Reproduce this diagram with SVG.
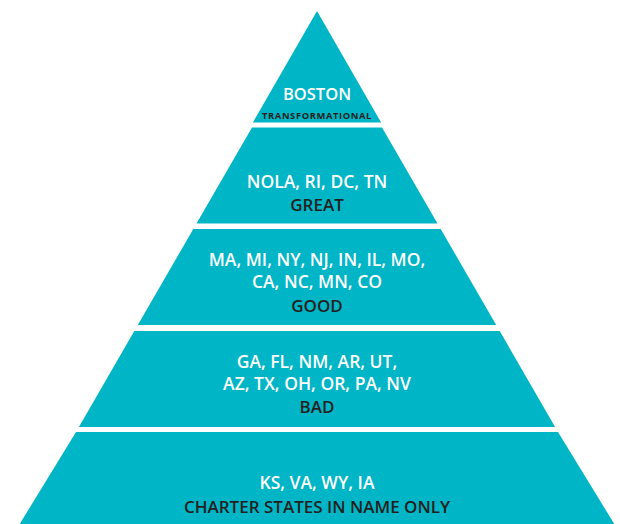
<svg xmlns="http://www.w3.org/2000/svg" width="620" height="524" viewBox="0 0 620 524">
<style>
.band{fill:#00b5c6}
.w{fill:#ffffff;font-family:"Open Sans","Liberation Sans",sans-serif;font-size:17.5px;font-weight:600;text-anchor:middle}
.d{fill:#231f20;font-family:"Open Sans","Liberation Sans",sans-serif;font-size:17px;font-weight:600;text-anchor:middle}
.s{fill:#231f20;font-family:"Open Sans","Liberation Sans",sans-serif;font-size:9.4px;font-weight:700;letter-spacing:0.6px;text-anchor:middle}
</style>
<rect width="620" height="524" fill="#ffffff"/>
<g id="boston">
<polygon class="band" points="317,11 381.1,122.5 252.9,122.5"/>
<text class="w" x="317" y="100" style="font-size:16.5px">BOSTON</text>
<text class="s" x="317" y="118.5">TRANSFORMATIONAL</text>
</g>
<g id="great">
<polygon class="band" points="252,127.5 382,127.5 437.5,223.5 196.5,223.5"/>
<text class="w" x="317" y="187.7">NOLA, RI, DC, TN</text>
<text class="d" x="317" y="211">GREAT</text>
</g>
<g id="good">
<polygon class="band" points="193.3,229 440.7,229 496.2,325 137.8,325"/>
<text class="w" x="317" y="265.7">MA, MI, NY, NJ, IN, IL, MO,</text>
<text class="w" x="317" y="288.3">CA, NC, MN, CO</text>
<text class="d" x="317" y="311.7">GOOD</text>
</g>
<g id="bad">
<polygon class="band" points="134.3,331 499.7,331 555.1,427 78.9,427"/>
<text class="w" x="317" y="367.7">GA, FL, NM, AR, UT,</text>
<text class="w" x="317" y="390">AZ, TX, OH, OR, PA, NV</text>
<text class="d" x="317" y="413.3">BAD</text>
</g>
<g id="charter">
<polygon class="band" points="76,432 558,432 614.3,524 19.7,524"/>
<text class="w" x="317" y="489.3">KS, VA, WY, IA</text>
<text class="d" x="317" y="513.3">CHARTER STATES IN NAME ONLY</text>
</g>
<g id="connectors"/>
</svg>
